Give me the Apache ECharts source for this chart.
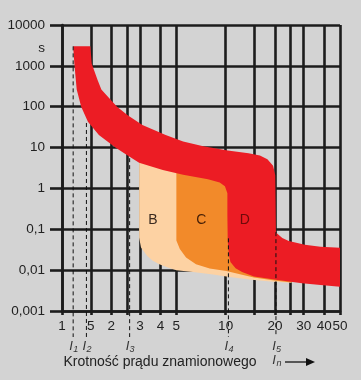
<!DOCTYPE html>
<html><head><meta charset="utf-8">
<script src="https://cdn.jsdelivr.net/npm/echarts@6/dist/echarts.min.js"></script>
<style>html,body{margin:0;padding:0;background:#d3d3d3}#c{width:361px;height:380px}</style>
</head><body><div id="c"></div>
<script>
// Axis ticks
const xGridValues = [1, 1.5, 2, 2.5, 3, 4, 5, 10, 15, 20, 25, 30, 40, 50];
const xLabelValues = [1, 1.5, 2, 3, 4, 5, 10, 20, 30, 40, 50];
const xLabelTexts = ['1', '5', '2', '3', '4', '5', '10', '20', '30', '40', '50'];
const yTickValues = [0.001, 0.01, 0.1, 1, 10, 100, 1000, 10000];
const yTickLabels = ['0,001', '0,01', '0,1', '1', '10', '100', '1000', '10000'];

// Red band (thermal band + D zone): outline as [multiple of In, seconds]
const redBand = [
  [1.17, 3000], [1.49, 3000], [1.52, 1120], [1.65, 450], [1.74, 265], [1.89, 182],
  [2.17, 100], [2.52, 62], [3.1, 35.6], [4.3, 20.3], [5.5, 14], [7.3, 10.8],
  [10.3, 8.5], [13.8, 7.3], [16.2, 6.4], [18, 5.2], [19.5, 3.6], [20.1, 2.1],
  [20.2, 0.49], [20.3, 0.084], [22.2, 0.061], [24.3, 0.052], [30.5, 0.042],
  [38, 0.0376], [50, 0.0355],
  [50, 0.0039], [38, 0.0043], [29.3, 0.0048], [20.3, 0.0058], [14.9, 0.007],
  [12.6, 0.009], [11.5, 0.0112], [10.7, 0.0158], [10.45, 0.025], [10.3, 0.053],
  [10.25, 0.215], [10.25, 0.76], [9.9, 1.13], [9.2, 1.4], [7.8, 1.68], [5.5, 2.15],
  [4.13, 2.82], [2.96, 4.25], [2.52, 6.36], [2.12, 10], [1.68, 20.3], [1.44, 43],
  [1.31, 100], [1.23, 265], [1.19, 1120]
];
// B zone outline
const bZone = [
  [2.96, 5.2], [2.96, 0.063], [3.04, 0.036], [3.31, 0.0224], [3.57, 0.0173],
  [3.93, 0.0139], [4.44, 0.01155], [5, 0.01], [6.32, 0.009], [8.37, 0.0078],
  [10.6, 0.0068], [14.4, 0.0058], [20.3, 0.0051], [25.3, 0.0049],
  [25.3, 0.0168], [14.4, 0.49], [14.4, 3.83]
];
// C zone outline
const cZone = [
  [5, 3.83], [5, 0.053], [5.25, 0.033], [5.73, 0.0203], [6.59, 0.0139],
  [7.99, 0.011], [10.1, 0.0095], [12.6, 0.0077], [14.9, 0.0066], [20.3, 0.0055],
  [25.3, 0.00496], [25.3, 0.0168], [14.4, 0.49], [14.4, 3.83]
];
// Threshold currents I1..I5 and where their dashed markers begin (seconds)
const iValues = [1.17, 1.41, 2.59, 10.4, 20.3];
const iTops = [3000, 40, 5.5, 0.06, 0.085];
const iNames = ['1', '2', '3', '4', '5'];
// Zone letters
const zoneLabels = ['B', 'C', 'D'];
const zoneLabelX = [3.6, 7.1, 13.1];
const zoneLabelY = [0.17, 0.164, 0.164];
const zoneLabelColors = ['#3a2a20', '#4a2208', '#6e0a0a'];

const FONT = '"Liberation Sans", Arial, sans-serif';
const LINE = '#1c1c1c';
const gridLine = {color: LINE, width: 2.6};

function findIdx(arr, v) {
  for (let i = 0; i < arr.length; i++) if (Math.abs(arr[i] - v) / arr[i] < 1e-4) return i;
  return -1;
}
function polySeries(name, pts, color, z) {
  return {
    type: 'custom', name: name, z: z, silent: true, clip: true, data: [[1, 1]],
    renderItem: function (params, api) {
      return {type: 'polygon', shape: {points: pts.map(function (p) { return api.coord(p); })},
        style: {fill: color, stroke: null}};
    }
  };
}

const chart = echarts.init(document.getElementById('c'), null, {renderer: 'canvas'});
chart.setOption({
  backgroundColor: '#d3d3d3',
  animation: false,
  grid: {left: 62, right: 21, top: 25, bottom: 69},
  xAxis: {
    type: 'log', logBase: 10, min: 1, max: 50,
    axisLine: {show: true, lineStyle: gridLine},
    axisTick: {show: true, customValues: xGridValues, length: 4, lineStyle: gridLine},
    axisLabel: {
      customValues: xLabelValues, margin: 8, fontSize: 13.5, color: '#222', fontFamily: FONT,
      formatter: function (v) { const i = findIdx(xLabelValues, v); return i >= 0 ? xLabelTexts[i] : ''; }
    },
    splitLine: {show: true, lineStyle: gridLine},
    minorTick: {show: false}, minorSplitLine: {show: false}
  },
  yAxis: {
    type: 'log', logBase: 10, min: 0.001, max: 10000,
    axisLine: {show: true, lineStyle: gridLine},
    axisTick: {show: true, customValues: yTickValues, length: 12, lineStyle: gridLine},
    axisLabel: {
      customValues: yTickValues, margin: 17, fontSize: 13.5, color: '#222', fontFamily: FONT,
      formatter: function (v) { const i = findIdx(yTickValues, v); return i >= 0 ? yTickLabels[i] : ''; }
    },
    splitLine: {show: true, lineStyle: gridLine}
  },
  series: [
    polySeries('B', bZone, '#fdd2a3', 2),
    polySeries('C', cZone, '#f28a2a', 3),
    polySeries('band', redBand, '#ec1c24', 4),
    {
      type: 'custom', name: 'I', z: 5, silent: true, clip: false,
      data: iValues.map(function (v, i) { return [v, iTops[i]]; }),
      renderItem: function (params, api) {
        const x = api.value(0), top = api.value(1);
        const p0 = api.coord([x, top]);
        const p1 = api.coord([x, yTickValues[0]]);
        const i = params.dataIndex;
        return {type: 'group', children: [
          {type: 'line', shape: {x1: p0[0], y1: p0[1], x2: p1[0], y2: p1[1] + 26},
            style: {stroke: '#111', lineWidth: 1, lineDash: [4, 3]}},
          {type: 'text', x: p1[0] - 2, y: p1[1] + 35,
            style: {text: 'I', font: 'italic 13px ' + FONT, fill: '#333', align: 'center', verticalAlign: 'middle'}},
          {type: 'text', x: p1[0] + 2.5, y: p1[1] + 38,
            style: {text: iNames[i], font: 'italic 9px ' + FONT, fill: '#333', align: 'center', verticalAlign: 'middle'}}
        ]};
      }
    },
    {
      type: 'custom', name: 'zones', z: 6, silent: true, clip: false,
      data: zoneLabelX.map(function (v, i) { return [v, zoneLabelY[i]]; }),
      renderItem: function (params, api) {
        const p = api.coord([api.value(0), api.value(1)]);
        const i = params.dataIndex;
        return {type: 'text', x: p[0], y: p[1],
          style: {text: zoneLabels[i], font: '14px ' + FONT, fill: zoneLabelColors[i], align: 'center', verticalAlign: 'middle'}};
      }
    }
  ],
  graphic: [
    {type: 'text', x: 45, y: 48, style: {text: 's', font: '13.5px ' + FONT, fill: '#222', align: 'right', verticalAlign: 'middle'}},
    {type: 'text', x: 160, y: 362, style: {text: 'Krotność prądu znamionowego', font: '14px ' + FONT, fill: '#222', align: 'center', verticalAlign: 'middle'}},
    {type: 'text', x: 274, y: 360, style: {text: 'I', font: 'italic 13px ' + FONT, fill: '#333', align: 'center', verticalAlign: 'middle'}},
    {type: 'text', x: 279, y: 363, style: {text: 'n', font: 'italic 9px ' + FONT, fill: '#333', align: 'center', verticalAlign: 'middle'}},
    {type: 'line', shape: {x1: 285, y1: 362, x2: 309, y2: 362}, style: {stroke: '#111', lineWidth: 1.3}},
    {type: 'polygon', shape: {points: [[306, 358], [315, 362], [306, 366]]}, style: {fill: '#111'}}
  ]
});
</script>
</body></html>
